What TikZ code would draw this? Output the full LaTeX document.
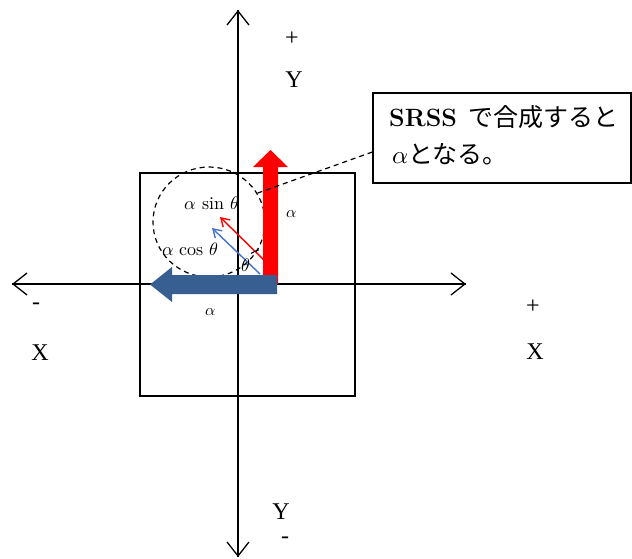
\documentclass[tikz,border=0pt]{standalone}
\usepackage{fontspec}
\setmainfont{Liberation Serif}
\newfontfamily\cjk{Noto Sans CJK JP}
\newfontfamily\lmr{Latin Modern Roman}
\newfontfamily\lmm{latinmodern-math.otf}
\usetikzlibrary{arrows.meta}
\definecolor{bigblue}{RGB}{56,95,145}
\definecolor{thinblue}{RGB}{68,114,196}
\tikzset{
  axis/.style={line width=1.3pt,-{Straight Barb[length=14pt,width=22pt,line width=1.3pt]}},
  biglbl/.style={font=\fontsize{24}{28}\selectfont,inner sep=0pt},
  smalllbl/.style={font=\lmm\fontsize{18}{20}\selectfont,inner sep=0pt},
  thinarrow/.style={line width=1.4pt,-{Straight Barb[length=8pt,width=10pt,line width=1.4pt]}},
  callout/.style={font=\fontsize{25}{29}\selectfont,inner sep=0pt,anchor=base west}
}
\begin{document}
\begin{tikzpicture}[x=1pt,y=-1pt]
\useasboundingbox (0,0) rectangle (632,558);
% square
\draw[line width=1.4pt] (140,173) rectangle (355,396);
% axes
\coordinate (o) at (238,284);
\coordinate (yb) at (238,557);
\coordinate (yt) at (238,10);
\coordinate (xl) at (12,284);
\coordinate (xr) at (466,284);
\draw[axis] (yb) -- (yt);
\draw[axis] (xr) -- (xl);
\draw[axis] (xl) -- (xr);
\draw[axis] (yt) -- (yb);
% dashed circle
\draw[line width=1.2pt,dash pattern=on 5pt off 4pt] (209,222) ellipse [x radius=56, y radius=55];
% big red arrow
\fill[red] (263,284) -- (263,167) -- (253,167) -- (270.5,150) -- (288,167) -- (278,167) -- (278,284) -- cycle;
% big blue arrow
\fill[bigblue] (277,275) -- (172,275) -- (172,267) -- (150,284.5) -- (172,302) -- (172,294) -- (277,294) -- cycle;
% thin arrows
\coordinate (rs) at (266,262);
\coordinate (re) at (220,217);
\coordinate (bs) at (260,274);
\coordinate (be) at (212,228);
\draw[thinarrow,red] (rs) -- (re);
\draw[thinarrow,thinblue] (bs) -- (be);
% theta arc
\draw[line width=1pt] (270,284) ++(-108:36) arc[start angle=-108,end angle=-122,radius=36];
% labels
\node[smalllbl] (th) at (246,265) {𝜃};
\node[smalllbl] (asin) at (212,203) {𝛼 sin 𝜃};
\node[smalllbl] (acos) at (190,249) {𝛼 cos 𝜃};
\node[smalllbl,font=\lmm\fontsize{16}{18}\selectfont] (ar) at (292,214) {𝛼};
\node[smalllbl,font=\lmm\fontsize{16}{18}\selectfont] (ab) at (211,312) {𝛼};
\node[biglbl] (yp) at (292,39) {+};
\node[biglbl] (yl) at (294,80) {Y};
\node[biglbl] (xm) at (36,306) {-};
\node[biglbl] (xll) at (40,353) {X};
\node[biglbl] (xp) at (533,307) {+};
\node[biglbl] (xrl) at (535,352) {X};
\node[biglbl] (ybl) at (281,512) {Y};
\node[biglbl,text height=3pt,text depth=0pt] (ym) at (285,542) {-};
% callout
\node[draw,line width=1.3pt,minimum width=258pt,minimum height=90pt,inner sep=0pt] (box) at (502,138) {};
\node[callout] (t1) at (389,126) {\lmr\bfseries SRSS};
\node[callout] (t1b) at (468,126) {\cjk で合成すると};
\node[callout] (t2) at (392,163) {{\lmm 𝛼}{\cjk となる。}};
\coordinate (lead) at (255,194);
\draw[line width=1.2pt,dash pattern=on 5pt off 4pt] (box.west |- 0,152) -- (lead);
\end{tikzpicture}
\end{document}
